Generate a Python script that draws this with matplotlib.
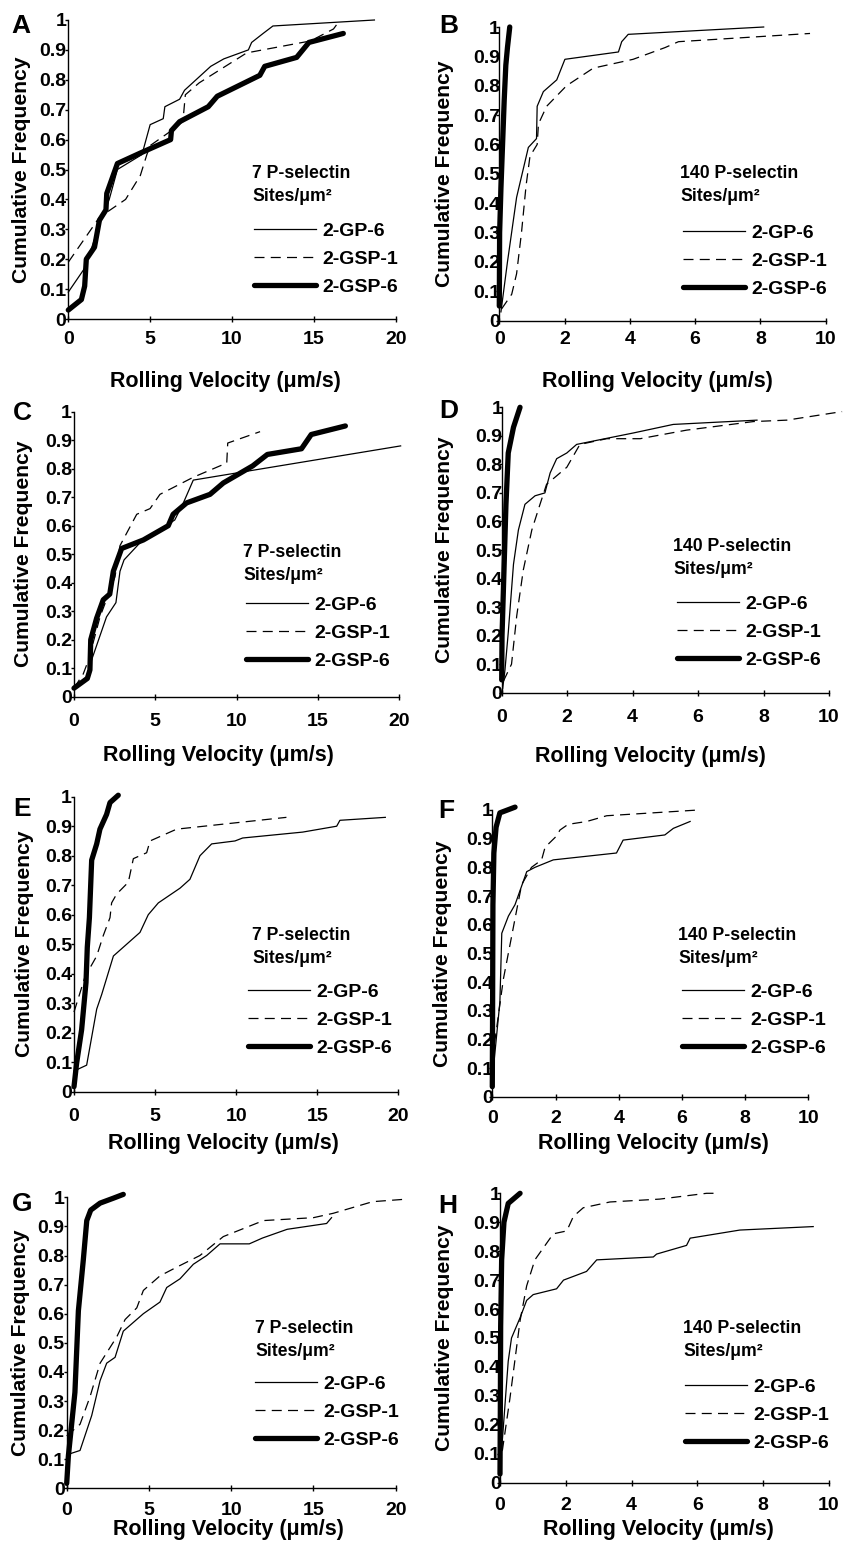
import matplotlib.pyplot as plt

plt.rcParams['font.family'] = ['Liberation Sans', 'DejaVu Sans']
plt.rcParams['font.weight'] = 'bold'

W, H = 847, 1545

# --- data: rolling velocity (um/s) vs cumulative frequency ---
a_gp6_v = [0, 0.5, 1.0, 1.5, 2.0, 2.5, 3.0, 4.5, 5.0, 5.8, 5.9, 6.8, 7.1, 8.7, 9.5, 11.0, 11.2, 11.9, 12.5, 18.7]
a_gp6_f = [0.09, 0.13, 0.17, 0.25, 0.33, 0.40, 0.50, 0.55, 0.65, 0.67, 0.71, 0.735, 0.765, 0.845, 0.87, 0.90, 0.925, 0.955, 0.98, 1.0]
a_gsp1_v = [0, 1.9, 3.5, 4.4, 4.8, 5.0, 6.3, 7.0, 7.15, 8.0, 10.9, 14.8, 16.2, 16.6]
a_gsp1_f = [0.19, 0.34, 0.40, 0.48, 0.55, 0.58, 0.63, 0.66, 0.75, 0.79, 0.89, 0.93, 0.97, 1.0]
a_gsp6_v = [0, 0.8, 1.0, 1.1, 1.6, 1.9, 2.3, 2.35, 3.0, 4.4, 6.25, 6.3, 6.8, 8.55, 9.1, 11.7, 12.0, 13.95, 14.7, 16.8]
a_gsp6_f = [0.03, 0.065, 0.11, 0.20, 0.24, 0.33, 0.365, 0.42, 0.52, 0.555, 0.60, 0.63, 0.66, 0.71, 0.745, 0.815, 0.845, 0.875, 0.925, 0.955]

b_gp6_v = [0.05, 0.25, 0.53, 0.89, 1.14, 1.16, 1.35, 1.76, 2.01, 3.65, 3.75, 3.95, 8.1]
b_gp6_f = [0.03, 0.2, 0.42, 0.59, 0.62, 0.73, 0.78, 0.82, 0.89, 0.915, 0.95, 0.975, 1.0]
b_gsp1_v = [0.07, 0.38, 0.53, 0.68, 0.82, 0.94, 1.16, 1.2, 1.45, 2.06, 2.88, 4.1, 5.08, 5.49, 9.52]
b_gsp1_f = [0.04, 0.09, 0.16, 0.30, 0.46, 0.56, 0.60, 0.67, 0.73, 0.80, 0.86, 0.89, 0.93, 0.95, 0.978]
b_gsp6_v = [0, 0.01, 0.05, 0.1, 0.15, 0.2, 0.25, 0.32]
b_gsp6_f = [0.05, 0.3, 0.45, 0.6, 0.75, 0.87, 0.93, 1.0]

c_gp6_v = [0, 0.78, 1.09, 2.0, 2.58, 2.83, 3.08, 4.06, 6.2, 6.73, 7.34, 20.1]
c_gp6_f = [0.03, 0.07, 0.13, 0.28, 0.33, 0.44, 0.48, 0.54, 0.62, 0.68, 0.76, 0.88]
c_gsp1_v = [0, 0.57, 0.9, 1.6, 2.52, 2.83, 3.86, 4.68, 5.29, 7.34, 9.4, 9.46, 11.45]
c_gsp1_f = [0.03, 0.08, 0.13, 0.28, 0.42, 0.53, 0.64, 0.66, 0.71, 0.77, 0.82, 0.89, 0.93]
c_gsp6_v = [0, 0.82, 0.98, 1.03, 1.39, 1.8, 2.2, 2.42, 2.93, 4.27, 5.8, 6.1, 6.93, 8.37, 9.19, 11.0, 11.9, 14.0, 14.6, 16.7]
c_gsp6_f = [0.03, 0.064, 0.094, 0.2, 0.275, 0.34, 0.36, 0.44, 0.52, 0.55, 0.6, 0.64, 0.68, 0.71, 0.75, 0.81, 0.85, 0.87, 0.92, 0.95]

d_gp6_v = [0.03, 0.1, 0.2, 0.36, 0.51, 0.71, 1.02, 1.32, 1.48, 1.68, 1.99, 2.29, 4.02, 5.24, 7.8]
d_gp6_f = [0.015, 0.08, 0.21, 0.45, 0.57, 0.66, 0.69, 0.70, 0.77, 0.82, 0.84, 0.87, 0.91, 0.94, 0.955]
d_gsp1_v = [0.05, 0.3, 0.46, 0.66, 0.92, 1.17, 1.37, 1.99, 2.39, 3.21, 4.23, 5.65, 7.69, 8.71, 10.4]
d_gsp1_f = [0.04, 0.1, 0.27, 0.43, 0.57, 0.66, 0.73, 0.79, 0.87, 0.89, 0.89, 0.92, 0.95, 0.955, 0.985]
d_gsp6_v = [0, 0.01, 0.07, 0.13, 0.2, 0.36, 0.56]
d_gsp6_f = [0.045, 0.2, 0.43, 0.66, 0.84, 0.93, 1.0]

e_gp6_v = [0, 0.78, 1.4, 1.71, 2.43, 2.84, 4.07, 4.58, 5.2, 6.54, 7.15, 7.77, 8.49, 9.93, 10.4, 14.1, 16.2, 16.4, 19.2]
e_gp6_f = [0.07, 0.09, 0.28, 0.33, 0.46, 0.48, 0.54, 0.60, 0.64, 0.69, 0.72, 0.80, 0.84, 0.85, 0.86, 0.88, 0.90, 0.92, 0.93]
e_gsp1_v = [0, 0.68, 1.4, 1.81, 2.22, 2.32, 2.63, 3.35, 3.66, 4.48, 4.69, 6.33, 13.1]
e_gsp1_f = [0.27, 0.39, 0.46, 0.53, 0.59, 0.64, 0.67, 0.71, 0.79, 0.81, 0.85, 0.89, 0.93]
e_gsp6_v = [0, 0.16, 0.47, 0.74, 0.82, 0.95, 1.09, 1.4, 1.6, 2.01, 2.22, 2.73]
e_gsp6_f = [0.017, 0.096, 0.21, 0.37, 0.49, 0.59, 0.785, 0.84, 0.89, 0.94, 0.98, 1.005]

f_gp6_v = [0, 0.24, 0.3, 0.51, 0.72, 1.09, 1.35, 1.93, 3.93, 4.14, 5.46, 5.73, 6.26]
f_gp6_f = [0.06, 0.33, 0.57, 0.63, 0.67, 0.785, 0.80, 0.826, 0.85, 0.895, 0.913, 0.936, 0.96]
f_gsp1_v = [0, 0.35, 0.56, 0.77, 0.93, 1.24, 1.56, 1.67, 2.04, 2.14, 2.4, 2.99, 3.62, 6.52]
f_gsp1_f = [0.13, 0.41, 0.53, 0.65, 0.74, 0.80, 0.826, 0.87, 0.91, 0.93, 0.95, 0.96, 0.98, 1.0]
f_gsp6_v = [0, 0.01, 0.02, 0.05, 0.12, 0.24, 0.72]
f_gsp6_f = [0.035, 0.33, 0.67, 0.85, 0.94, 0.99, 1.01]

g_gp6_v = [0, 0.81, 1.52, 2.03, 2.43, 2.94, 3.44, 4.05, 4.66, 5.67, 6.08, 6.89, 7.7, 8.51, 9.32, 11.1, 11.9, 13.4, 15.8, 16.1]
g_gp6_f = [0.115, 0.13, 0.25, 0.37, 0.43, 0.45, 0.54, 0.57, 0.60, 0.64, 0.69, 0.72, 0.77, 0.80, 0.84, 0.84, 0.86, 0.89, 0.91, 0.93]
g_gsp1_v = [0, 0.81, 1.42, 2.03, 3.04, 3.55, 4.26, 4.66, 5.67, 6.69, 8.1, 9.52, 11.96, 15.0, 16.2, 18.6, 20.5]
g_gsp1_f = [0.18, 0.22, 0.315, 0.43, 0.52, 0.58, 0.62, 0.68, 0.73, 0.76, 0.80, 0.865, 0.92, 0.93, 0.945, 0.985, 0.993]
g_gsp6_v = [0, 0.1, 0.5, 0.71, 1.01, 1.22, 1.46, 2.03, 2.84, 3.44]
g_gsp6_f = [0.017, 0.11, 0.33, 0.61, 0.785, 0.92, 0.956, 0.98, 0.997, 1.01]

h_gp6_v = [0, 0.1, 0.25, 0.35, 0.61, 0.81, 1.01, 1.72, 1.93, 2.63, 2.94, 4.66, 4.76, 5.67, 5.78, 7.29, 9.52]
h_gp6_f = [0.04, 0.19, 0.42, 0.50, 0.57, 0.63, 0.65, 0.67, 0.70, 0.73, 0.77, 0.78, 0.79, 0.82, 0.845, 0.873, 0.885]
h_gsp1_v = [0, 0.3, 0.61, 0.81, 1.06, 1.62, 2.03, 2.23, 2.53, 3.34, 4.86, 6.28, 6.59]
h_gsp1_f = [0.055, 0.29, 0.56, 0.68, 0.77, 0.86, 0.87, 0.92, 0.95, 0.97, 0.98, 1.0, 1.0]
h_gsp6_v = [0, 0.01, 0.02, 0.05, 0.12, 0.25, 0.61]
h_gsp6_f = [0.03, 0.25, 0.54, 0.77, 0.9, 0.965, 1.0]

series_labels = ['2-GP-6', '2-GSP-1', '2-GSP-6']

# layout in pixels: axes box (left, right, top, bottom), label/legend anchors
panels = [
    dict(letter='A', data=[(a_gp6_v, a_gp6_f), (a_gsp1_v, a_gsp1_f), (a_gsp6_v, a_gsp6_f)],
         box=(68.3, 395.7, 20, 319), xmax=20, xstep=5, sites='7', letter_xy=(21, 26),
         ylab_x=22, xlab_xy=(225, 381), leg_xy=(254, 259), title_xy=(252, 185), xpad=6, ypad=-1),
    dict(letter='B', data=[(b_gp6_v, b_gp6_f), (b_gsp1_v, b_gsp1_f), (b_gsp6_v, b_gsp6_f)],
         box=(499.3, 825.7, 27, 320.7), xmax=10, xstep=2, sites='140', letter_xy=(449, 26),
         ylab_x=444, xlab_xy=(657, 382), leg_xy=(683, 261), title_xy=(680, 185), xpad=5, ypad=-3),
    dict(letter='C', data=[(c_gp6_v, c_gp6_f), (c_gsp1_v, c_gsp1_f), (c_gsp6_v, c_gsp6_f)],
         box=(74, 399, 411.7, 696.7), xmax=20, xstep=5, sites='7', letter_xy=(22, 413),
         ylab_x=24, xlab_xy=(218, 755), leg_xy=(246, 633), title_xy=(243, 564), xpad=9, ypad=-1),
    dict(letter='D', data=[(d_gp6_v, d_gp6_f), (d_gsp1_v, d_gsp1_f), (d_gsp6_v, d_gsp6_f)],
         box=(501.7, 829, 407.3, 692.7), xmax=10, xstep=2, sites='140', letter_xy=(449, 411),
         ylab_x=444, xlab_xy=(650, 756), leg_xy=(677, 632), title_xy=(673, 558), xpad=9.5, ypad=-3),
    dict(letter='E', data=[(e_gp6_v, e_gp6_f), (e_gsp1_v, e_gsp1_f), (e_gsp6_v, e_gsp6_f)],
         box=(74, 398.3, 796.7, 1091.7), xmax=20, xstep=5, sites='7', letter_xy=(22, 809),
         ylab_x=24, xlab_xy=(223, 1144), leg_xy=(248, 1020), title_xy=(252, 947), xpad=9, ypad=-1),
    dict(letter='F', data=[(f_gp6_v, f_gp6_f), (f_gsp1_v, f_gsp1_f), (f_gsp6_v, f_gsp6_f)],
         box=(492.3, 808.3, 810, 1096.7), xmax=10, xstep=2, sites='140', letter_xy=(446, 811),
         ylab_x=442, xlab_xy=(653, 1143), leg_xy=(682, 1020), title_xy=(678, 947), xpad=7, ypad=-3),
    dict(letter='G', data=[(g_gp6_v, g_gp6_f), (g_gsp1_v, g_gsp1_f), (g_gsp6_v, g_gsp6_f)],
         box=(66.7, 395.7, 1197.3, 1488.3), xmax=20, xstep=5, sites='7', letter_xy=(22, 1204),
         ylab_x=21, xlab_xy=(228, 1530), leg_xy=(255, 1412), title_xy=(255, 1340), xpad=7.5, ypad=-1),
    dict(letter='H', data=[(h_gp6_v, h_gp6_f), (h_gsp1_v, h_gsp1_f), (h_gsp6_v, h_gsp6_f)],
         box=(500, 829, 1193.3, 1482.7), xmax=10, xstep=2, sites='140', letter_xy=(448, 1206),
         ylab_x=444, xlab_xy=(658, 1530), leg_xy=(685, 1415), title_xy=(683, 1340), xpad=7.5, ypad=-3),
]

styles = [dict(lw=0.9, ls='-'), dict(lw=0.9, ls=(0, (8, 5))), dict(lw=3.8, ls='-', solid_capstyle='round')]

fig = plt.figure(figsize=(W / 100, H / 100), dpi=100)

for p in panels:
    left, right, top, bottom = p['box']
    ax = fig.add_axes([left / W, 1 - bottom / H, (right - left) / W, (bottom - top) / H])
    for (v, f), lab, st in zip(p['data'], series_labels, styles):
        ax.plot(v, f, color='black', label=lab, clip_on=False, **st)

    ax.set_xlim(0, p['xmax'])
    ax.set_ylim(0, 1)
    ax.set_xticks(range(0, p['xmax'] + 1, p['xstep']))
    yt = [i / 10 for i in range(11)]
    ax.set_yticks(yt)
    ax.set_yticklabels(['0'] + [f'{t:.1f}' for t in yt[1:-1]] + ['1'])
    for s in ['top', 'right']:
        ax.spines[s].set_visible(False)
    for s in ['left', 'bottom']:
        ax.spines[s].set_linewidth(1.0)
    ax.tick_params(axis='x', direction='inout', length=5, width=1, labelsize=14, pad=p['xpad'])
    ax.tick_params(axis='y', direction='out', length=2.5, width=1, labelsize=14, pad=p['ypad'])

    w_px, h_px = right - left, bottom - top
    ax.set_ylabel('Cumulative Frequency', fontsize=15.2, fontweight='bold')
    ax.yaxis.label.set_va('center')
    ax.yaxis.set_label_coords((p['ylab_x'] - left) / w_px, 0.5)
    ax.set_xlabel('Rolling Velocity (μm/s)', fontsize=15.5, fontweight='bold')
    ax.xaxis.label.set_va('center')
    ax.xaxis.set_label_coords((p['xlab_xy'][0] - left) / w_px, (bottom - p['xlab_xy'][1]) / h_px)

    lx, ly = p['leg_xy']
    ax.legend(loc='center left', bbox_to_anchor=(lx / W, 1 - ly / H), bbox_transform=fig.transFigure,
              frameon=False, borderpad=0, borderaxespad=0, handlelength=3.2, handletextpad=0.3,
              labelspacing=0.53, prop={'size': 14, 'weight': 'bold'})

    tx, ty = p['title_xy']
    fig.text(tx / W, 1 - ty / H, f"{p['sites']} P-selectin\nSites/μm²", fontsize=12.7,
             fontweight='bold', ha='left', va='center', linespacing=1.45)
    fig.text(p['letter_xy'][0] / W, 1 - p['letter_xy'][1] / H, p['letter'], fontsize=19,
             fontweight='bold', ha='center', va='center')

fig.savefig('out.png', dpi=100)
